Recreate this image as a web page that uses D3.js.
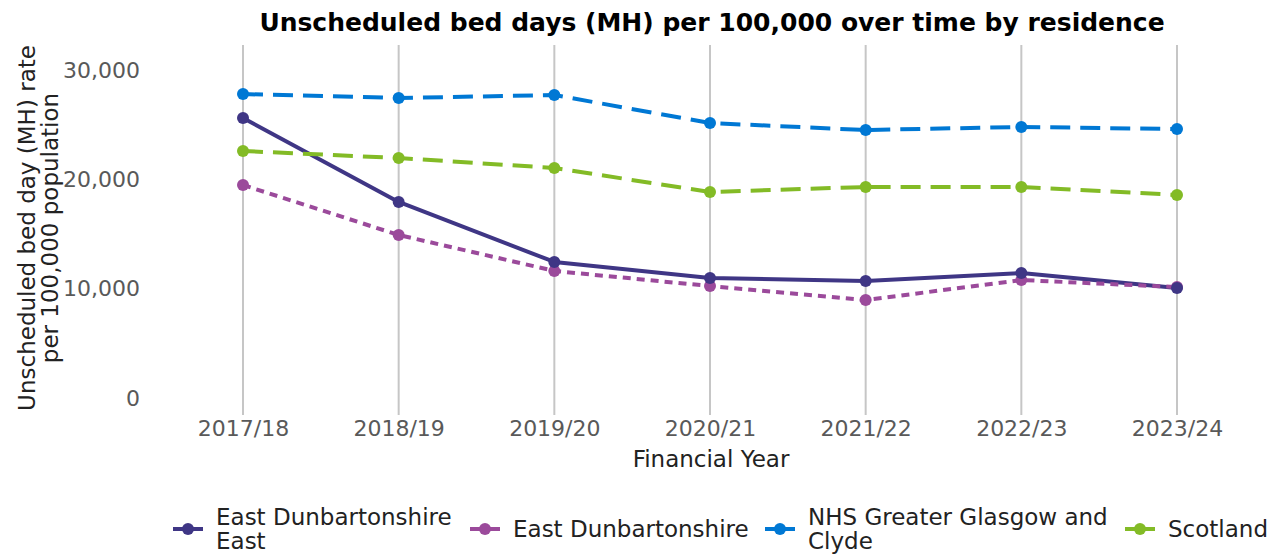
<!DOCTYPE html>
<html>
<head>
<meta charset="utf-8">
<script src="https://cdn.jsdelivr.net/npm/d3@7"></script>
<style>
  html, body { margin: 0; padding: 0; background: #fff; }
  svg { display: block; font-family: "DejaVu Sans", sans-serif; }
</style>
</head>
<body>
<svg id="chart" width="1282" height="554"></svg>
<script>
// Financial years on the x axis
const years = ["2017/18", "2018/19", "2019/20", "2020/21", "2021/22", "2022/23", "2023/24"];

// Unscheduled mental health bed days per 100,000 population
const eastDunbartonshireEast = [25610, 17930, 12440, 10980, 10700, 11430, 10060];
const eastDunbartonshire     = [19480, 14910, 11620, 10240, 8960, 10790, 10150];
const greaterGlasgowClyde    = [27800, 27440, 27710, 25150, 24510, 24790, 24600];
const scotland               = [22590, 21950, 21040, 18840, 19300, 19300, 18570];

const yTicks = [0, 10000, 20000, 30000];

const seriesNames = [["East Dunbartonshire", "East"], ["East Dunbartonshire"], ["NHS Greater Glasgow and", "Clyde"], ["Scotland"]];

const series = [
  { name: seriesNames[0], values: eastDunbartonshireEast, color: "#3f3685", dash: null },
  { name: seriesNames[1], values: eastDunbartonshire,     color: "#9b4a9b", dash: "8,6" },
  { name: seriesNames[2], values: greaterGlasgowClyde,    color: "#0078d4", dash: "20,10" },
  { name: seriesNames[3], values: scotland,               color: "#83bb26", dash: "20,10" }
];

const svg = d3.select("#chart");

const x = d3.scalePoint().domain(years).range([243, 1177]);
const y = d3.scaleLinear().domain([0, 30000]).range([398, 70]);

// Title
svg.append("text")
  .attr("x", 712).attr("y", 31)
  .attr("text-anchor", "middle")
  .attr("font-size", 25).attr("font-weight", "bold")
  .attr("fill", "#000")
  .text("Unscheduled bed days (MH) per 100,000 over time by residence");

// Vertical grid lines at each year
svg.append("g")
  .selectAll("line")
  .data(years)
  .join("line")
  .attr("x1", d => x(d)).attr("x2", d => x(d))
  .attr("y1", 45).attr("y2", 415)
  .attr("stroke", "#c6c6c6").attr("stroke-width", 2);

// Y axis tick labels
const yAxis = d3.axisLeft(y).tickValues(yTicks).tickSize(0).tickPadding(0)
  .tickFormat(d3.format(","));
const gy = svg.append("g").attr("transform", "translate(140,0)").call(yAxis);
gy.select(".domain").remove();
gy.selectAll("text").attr("font-size", 22).attr("fill", "#595959")
  .attr("font-family", "DejaVu Sans, sans-serif");

// X axis tick labels
const xAxis = d3.axisBottom(x).tickSize(0).tickPadding(0);
const gx = svg.append("g").attr("transform", "translate(0,420)").call(xAxis);
gx.select(".domain").remove();
gx.selectAll("text").attr("font-size", 22).attr("fill", "#595959")
  .attr("font-family", "DejaVu Sans, sans-serif");

// Axis titles
svg.append("text")
  .attr("x", 711).attr("y", 467)
  .attr("text-anchor", "middle")
  .attr("font-size", 23).attr("fill", "#222")
  .text("Financial Year");

const yTitle = svg.append("text")
  .attr("transform", "translate(0,228) rotate(-90)")
  .attr("text-anchor", "middle")
  .attr("font-size", 23).attr("fill", "#222");
yTitle.append("tspan").attr("x", 0).attr("y", 35).text("Unscheduled bed day (MH) rate");
yTitle.append("tspan").attr("x", 0).attr("y", 58).text("per 100,000 population");

// Lines and points
const line = d3.line()
  .x((d, i) => x(years[i]))
  .y(d => y(d));

const g = svg.append("g");
series.forEach(s => {
  g.append("path")
    .datum(s.values)
    .attr("d", line)
    .attr("fill", "none")
    .attr("stroke", s.color)
    .attr("stroke-width", 4)
    .attr("stroke-dasharray", s.dash)
    .attr("stroke-linejoin", "round");
});
// draw points after all lines
[...series].reverse().forEach(s => {
  g.append("g")
    .selectAll("circle")
    .data(s.values)
    .join("circle")
    .attr("cx", (d, i) => x(years[i]))
    .attr("cy", d => y(d))
    .attr("r", 6)
    .attr("fill", s.color);
});

// Legend
const legendX = [173, 470, 765, 1125];
const legend = svg.append("g");
series.forEach((s, i) => {
  const lg = legend.append("g").attr("transform", `translate(${legendX[i]},529)`);
  lg.append("line").attr("x1", 0).attr("x2", 30).attr("y1", 0).attr("y2", 0)
    .attr("stroke", s.color).attr("stroke-width", 4);
  lg.append("circle").attr("cx", 15).attr("cy", 0).attr("r", 6).attr("fill", s.color);
  const t = lg.append("text").attr("font-size", 23).attr("fill", "#222");
  const n = s.name.length;
  s.name.forEach((ln, j) => {
    t.append("tspan").attr("x", 43)
      .attr("y", (j - (n - 1) / 2) * 24 + 8)
      .text(ln);
  });
});
</script>
</body>
</html>
